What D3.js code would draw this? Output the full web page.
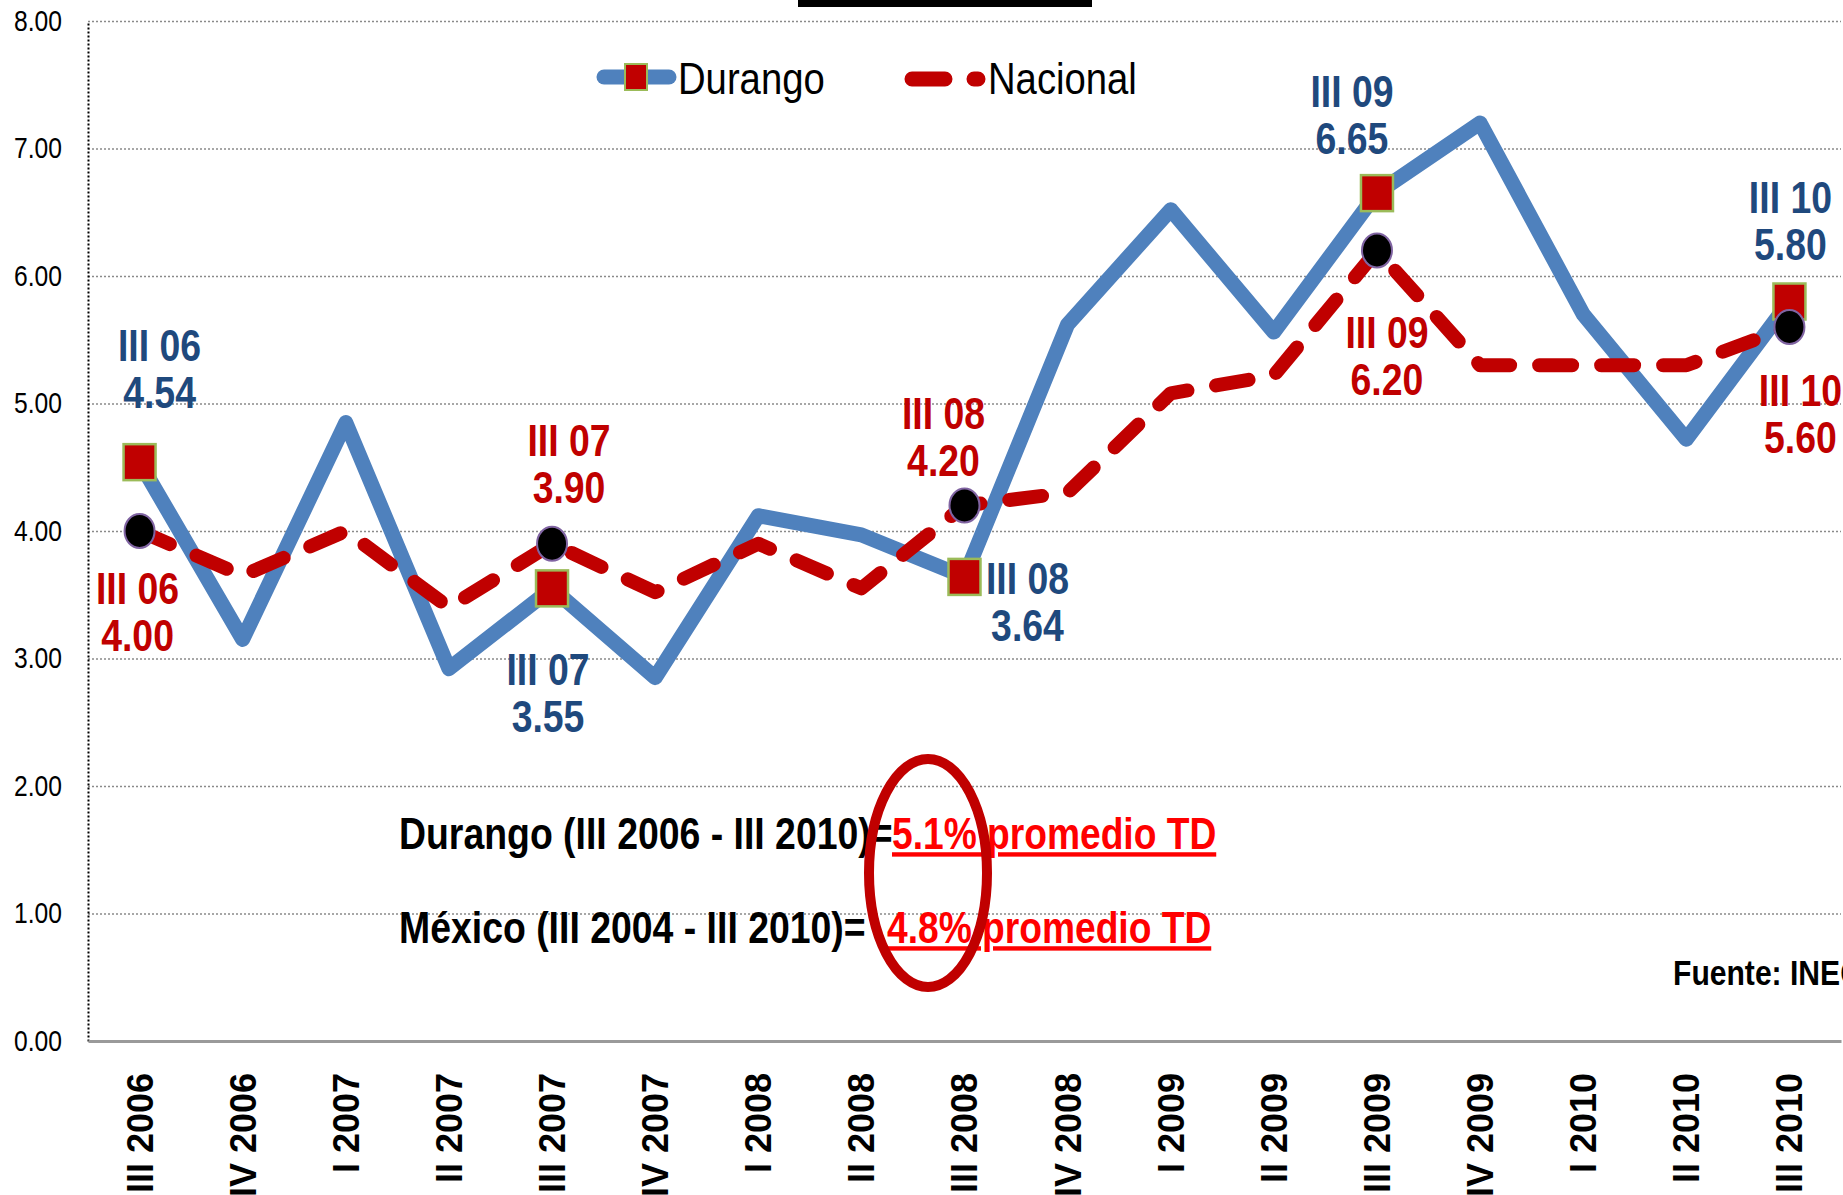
<!DOCTYPE html>
<html>
<head>
<meta charset="utf-8">
<script src="https://cdn.jsdelivr.net/npm/d3@7"></script>
<style>
  body { margin: 0; background: #fff; }
  svg { display: block; }
  text { font-family: "Liberation Sans", Arial, sans-serif; }
</style>
</head>
<body>
<div id="chart-container"></div>
<script>
// chart data
var categories = ["III 2006", "IV 2006", "I 2007", "II 2007", "III 2007", "IV 2007",
                  "I 2008", "II 2008", "III 2008", "IV 2008", "I 2009", "II 2009",
                  "III 2009", "IV 2009", "I 2010", "II 2010", "III 2010"];
var durango  = [4.54, 3.15, 4.85, 2.92, 3.55, 2.85, 4.12, 3.97, 3.64, 5.62, 6.52, 5.56, 6.65, 7.20, 5.70, 4.72, 5.80];
var nacional = [4.00, 3.65, 4.00, 3.40, 3.90, 3.52, 3.90, 3.55, 4.20, 4.30, 5.08, 5.22, 6.20, 5.30, 5.30, 5.30, 5.60];
var yTicks = [0, 1, 2, 3, 4, 5, 6, 7, 8];
var markedIdx = [0, 4, 8, 12, 16];
var markedTags = ["III 06", "III 07", "III 08", "III 09", "III 10"];
var seriesNames = ["Durango", "Nacional"];
var summaryLabels = ["Durango (III 2006 - III 2010)=", "México (III 2004 - III 2010)="];
var summaryValues = ["5.1% promedio TD", "4.8% promedio TD"];
var sourceNote = "Fuente: INEGI";

var W = 1843, H = 1195;
var BLUE = "#4F81BD", RED = "#C00000", NAVY = "#1F497D";
var NARROW = 0.85; // no Arial Narrow here, so squeeze Liberation Sans

var svg = d3.select("#chart-container").append("svg")
    .attr("width", W).attr("height", H);

// text squeezed horizontally around its anchor point
function narrowText(parent, px, py, str, sx) {
    return parent.append("g")
        .attr("transform", `translate(${px},${py}) scale(${sx || NARROW},1)`)
        .append("text").attr("x", 0).attr("y", 0).text(str);
}

var margin = { left: 88, right: 2, top: 21, bottom: 154 };
var x = d3.scaleBand().domain(categories).range([margin.left, W - margin.right]);
var y = d3.scaleLinear().domain([0, 8]).range([H - margin.bottom, margin.top]);
var cx = function(i) { return x(categories[i]) + x.bandwidth() / 2; };

// cropped title box at the very top
svg.append("rect").attr("x", 798).attr("y", 0).attr("width", 294).attr("height", 7).attr("fill", "#000");

// gridlines
svg.append("g")
    .attr("transform", `translate(${margin.left},0)`)
    .call(d3.axisLeft(y).tickValues(yTicks.slice(1)).tickSize(-(W - margin.right - margin.left)).tickFormat(""))
    .call(g => g.select(".domain").remove())
    .selectAll("line")
    .attr("stroke", "#8a8a8a").attr("stroke-width", 1.5).attr("stroke-dasharray", "2,2");

// y axis
var yAxis = svg.append("g")
    .attr("transform", `translate(${margin.left},0)`)
    .call(d3.axisLeft(y).tickValues(yTicks).tickFormat(d3.format(".2f")).tickSize(0).tickPadding(26));
yAxis.select(".domain").attr("stroke", "#000").attr("stroke-width", 2).attr("stroke-dasharray", "2,2");
yAxis.selectAll("text")
    .attr("x", -26 / NARROW)
    .attr("transform", `scale(${NARROW},1)`)
    .attr("font-family", "'Liberation Sans', Arial, sans-serif")
    .attr("font-size", 29).attr("fill", "#000");

// x axis
var xAxis = svg.append("g")
    .attr("transform", `translate(0,${y(0)})`)
    .call(d3.axisBottom(x).tickSize(0));
xAxis.select(".domain").attr("stroke", "#9a9a9a").attr("stroke-width", 3);
xAxis.selectAll("text")
    .attr("transform", "rotate(-90)")
    .attr("x", -32).attr("y", 0).attr("dy", "0.36em")
    .attr("text-anchor", "end")
    .attr("font-family", "'Liberation Sans', Arial, sans-serif")
    .attr("font-weight", "bold").attr("font-size", 36).attr("fill", "#000");

// lines
var line = d3.line().x((d, i) => cx(i)).y(d => y(d));
svg.append("path").datum(durango)
    .attr("d", line).attr("fill", "none")
    .attr("stroke", BLUE).attr("stroke-width", 15)
    .attr("stroke-linejoin", "round").attr("stroke-linecap", "round");
svg.append("path").datum(nacional)
    .attr("d", line).attr("fill", "none")
    .attr("stroke", RED).attr("stroke-width", 14)
    .attr("stroke-linejoin", "round").attr("stroke-linecap", "round")
    .attr("stroke-dasharray", "33,29");

// markers on the III quarters
svg.selectAll(".sq").data(markedIdx).enter().append("rect")
    .attr("x", i => cx(i) - 16).attr("y", i => y(durango[i]) - 18)
    .attr("width", 32).attr("height", 36)
    .attr("fill", RED).attr("stroke", "#9BBB59").attr("stroke-width", 2.5);
svg.selectAll(".dot").data(markedIdx).enter().append("ellipse")
    .attr("cx", i => cx(i)).attr("cy", i => y(nacional[i]))
    .attr("rx", 15).attr("ry", 17)
    .attr("fill", "#000").attr("stroke", "#8064A2").attr("stroke-width", 2);

// data labels: offsets from the point (dx, dy of first line)
var blueOff = [[20, -101], [-4, 97], [63, 17], [-25, -86], [1, -89]];
var redOff  = [[-2, 73], [17, -88], [-21, -77], [10, 97], [11, 79]];
function addLabels(values, offs, color) {
    markedIdx.forEach(function(i, k) {
        var px = cx(i) + offs[k][0], py = y(values[i]) + offs[k][1];
        [markedTags[k], values[i].toFixed(2)].forEach(function(s, j) {
            narrowText(svg, px, py + j * 47, s)
                .attr("text-anchor", "middle")
                .attr("font-weight", "bold").attr("font-size", 44)
                .attr("fill", color);
        });
    });
}
addLabels(durango, blueOff, NAVY);
addLabels(nacional, redOff, RED);

// legend
var lg = svg.append("g");
lg.append("line").attr("x1", 604).attr("x2", 669).attr("y1", 77).attr("y2", 77)
    .attr("stroke", BLUE).attr("stroke-width", 15).attr("stroke-linecap", "round");
lg.append("rect").attr("x", 625).attr("y", 64).attr("width", 22).attr("height", 26)
    .attr("fill", RED).attr("stroke", "#9BBB59").attr("stroke-width", 2);
narrowText(lg, 678, 94, seriesNames[0]).attr("font-size", 45).attr("fill", "#000");
lg.append("line").attr("x1", 912).attr("x2", 978).attr("y1", 79).attr("y2", 79)
    .attr("stroke", RED).attr("stroke-width", 15).attr("stroke-linecap", "round")
    .attr("stroke-dasharray", "33,29");
narrowText(lg, 988, 94, seriesNames[1]).attr("font-size", 45).attr("fill", "#000");

// summary notes
var notePos = [[399, 849, 892], [399, 943, 887]];
summaryLabels.forEach(function(s, k) {
    narrowText(svg, notePos[k][0], notePos[k][1], s, 0.85)
        .attr("font-weight", "bold").attr("font-size", 44).attr("fill", "#000");
    narrowText(svg, notePos[k][2], notePos[k][1], summaryValues[k], 0.845)
        .attr("font-weight", "bold").attr("font-size", 44).attr("fill", "#FF0000")
        .attr("text-decoration", "underline");
});

// highlight ring
svg.append("ellipse").attr("cx", 928).attr("cy", 873).attr("rx", 59).attr("ry", 114)
    .attr("fill", "none").attr("stroke", RED).attr("stroke-width", 10);

// source
narrowText(svg, 1673, 985, sourceNote, 0.86)
    .attr("font-family", "Lato, 'Open Sans', sans-serif")
    .attr("font-weight", "bold").attr("font-size", 35).attr("fill", "#000");
</script>
</body>
</html>
